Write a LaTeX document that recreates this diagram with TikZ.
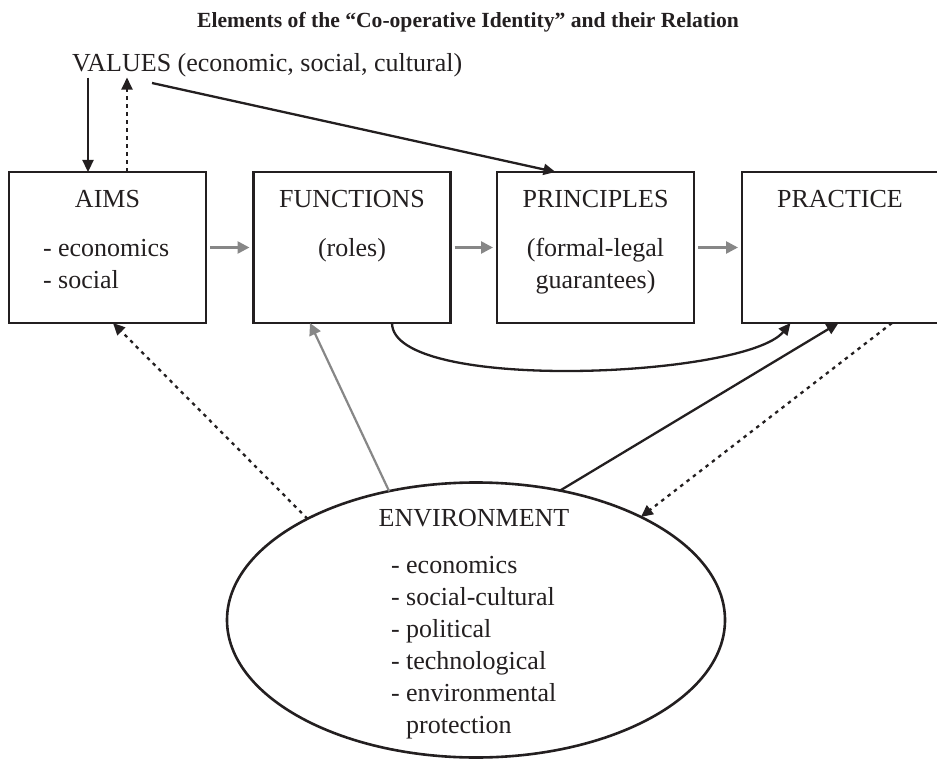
\documentclass[tikz,border=0pt]{standalone}
\usepackage{fontspec}
\setmainfont{Liberation Serif}
\usetikzlibrary{arrows.meta,shapes.geometric}
\definecolor{ink}{HTML}{231F20}
\definecolor{linkgray}{HTML}{878787}
\begin{document}
\begin{tikzpicture}[x=1pt,y=-1pt,
  every node/.style={inner sep=0pt, outer sep=0pt, text=ink},
  txt/.style={font=\fontsize{26}{31}\selectfont},
  ttl/.style={font=\fontsize{21.6}{26}\selectfont\bfseries},
  block/.style={draw=ink, line width=2.6pt, minimum width=197pt, minimum height=151pt},
  oval/.style={draw=ink, line width=2.6pt, ellipse, minimum width=498pt, minimum height=275pt},
  tip/.style={-{Triangle[length=12pt,width=11pt]}},
  blackarrow/.style={draw=ink, line width=2.3pt, tip},
  grayarrow/.style={draw=linkgray, line width=2.6pt, -{Triangle[length=12pt,width=12pt]}},
  dottedarrow/.style={blackarrow, dash pattern=on 3.5pt off 4.5pt},
]
\useasboundingbox (0,0) rectangle (937,762);
\clip (0,0) rectangle (937,762);

% heading and the values line
\node[ttl, anchor=base] (title) at (468,28) {Elements of the “Co-operative Identity” and their Relation};
\node[txt, anchor=base west] (values) at (72,72) {VALUES (economic, social, cultural)};

% the four elements
\node[block] (aims) at (107.5,247.5) {};
\node[block] (functions) at (352,247.5) {};
\node[block] (principles) at (595.5,247.5) {};
\node[block] (practice) at (840.5,247.5) {};

\node[txt, anchor=base] (aimsT) at (107.5,208) {AIMS};
\node[txt, anchor=base west] (aimsA) at (43,257) {- economics};
\node[txt, anchor=base west] (aimsB) at (43,288) {- social};
\node[txt, anchor=base] (funT) at (352,208) {FUNCTIONS};
\node[txt, anchor=base] (funA) at (352,257) {(roles)};
\node[txt, anchor=base] (priT) at (595.5,208) {PRINCIPLES};
\node[txt, anchor=base] (priA) at (595.5,257) {(formal-legal};
\node[txt, anchor=base] (priB) at (595.5,288) {guarantees)};
\node[txt, anchor=base] (praT) at (840,208) {PRACTICE};

% environment
\node[oval] (env) at (476,620) {};
\node[txt, anchor=base] (envT) at (474,526) {ENVIRONMENT};
\node[txt, anchor=base west] (envA) at (391,573) {- economics};
\node[txt, anchor=base west] (envB) at (391,605) {- social-cultural};
\node[txt, anchor=base west] (envC) at (391,637) {- political};
\node[txt, anchor=base west] (envD) at (391,669) {- technological};
\node[txt, anchor=base west] (envE) at (391,701) {- environmental};
\node[txt, anchor=base west] (envF) at (391,733) {\phantom{- }protection};

% connectors between values and the elements
\coordinate (xdown) at (88,0);
\coordinate (xup) at (127,0);
\coordinate (vout) at (152,83);
\draw[blackarrow] (values.south -| xdown) -- (aims.north -| xdown);
\draw[dottedarrow] (aims.north -| xup) -- (values.south -| xup);
\draw[blackarrow] (vout) -- ([xshift=-40pt]principles.north);

% the chain of elements
\draw[grayarrow] ([xshift=4pt]aims.east) -- ([xshift=-4pt]functions.west);
\draw[grayarrow] ([xshift=4pt]functions.east) -- ([xshift=-4pt]principles.west);
\draw[grayarrow] ([xshift=4pt]principles.east) -- ([xshift=-4pt]practice.west);
\draw[blackarrow] ([xshift=40pt]functions.south) .. controls +(0,70) and +(-45,55) .. ([xshift=-50pt]practice.south);

% links with the environment
\draw[dottedarrow] (env.149) -- ([xshift=5.5pt]aims.south);
\draw[grayarrow, line width=2.2pt] (env.124) -- ([xshift=-42pt]functions.south);
\draw[blackarrow] (env.57) -- ([xshift=-2pt]practice.south);
\draw[dottedarrow] ([xshift=51.5pt]practice.south) -- (env.32);
\end{tikzpicture}
\end{document}
